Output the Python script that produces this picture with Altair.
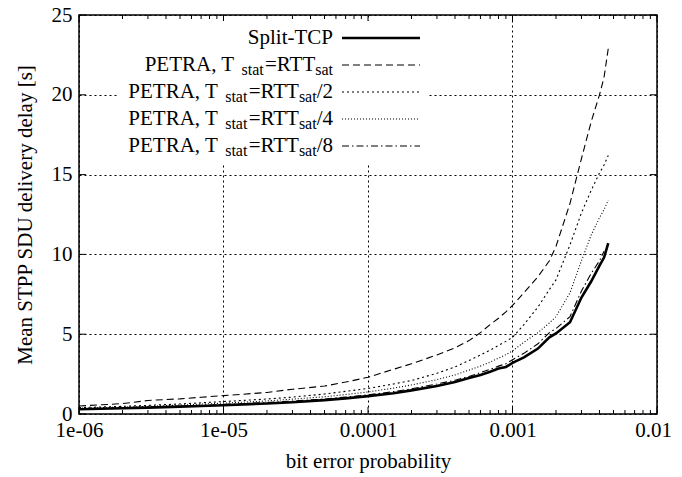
import math
import altair as alt
import pandas as pd

# ---------------- data ----------------
ber = [1e-6, 2e-6, 3e-6, 5e-6, 7e-6, 1e-5, 2e-5, 3e-5, 5e-5, 7e-5,
       1e-4, 1.5e-4, 2e-4, 3e-4, 4e-4, 5e-4, 6e-4, 7e-4, 8e-4, 9e-4,
       1e-3, 1.2e-3, 1.5e-3, 1.8e-3, 2e-3, 2.5e-3, 3e-3, 3.5e-3, 4e-3, 4.3e-3, 4.6e-3]

split_tcp = [0.30, 0.36, 0.40, 0.46, 0.50, 0.55, 0.66, 0.74, 0.87, 0.98,
             1.12, 1.30, 1.48, 1.75, 2.00, 2.25, 2.45, 2.65, 2.85, 2.95,
             3.20, 3.55, 4.10, 4.80, 5.05, 5.75, 7.30, 8.30, 9.30, 9.80, 10.70]
petra_1 = [0.50, 0.65, 0.85, 0.95, 1.05, 1.15, 1.35, 1.55, 1.75, 2.00,
           2.30, 2.80, 3.15, 3.70, 4.15, 4.60, 5.10, 5.60, 6.00, 6.40,
           6.80, 7.60, 8.60, 9.60, 10.50, 13.20, 16.00, 18.30, 20.00, 21.10, 22.90]
petra_2 = [0.40, 0.48, 0.54, 0.63, 0.70, 0.78, 0.94, 1.06, 1.25, 1.42,
           1.60, 1.88, 2.10, 2.55, 2.95, 3.35, 3.70, 4.00, 4.30, 4.55,
           4.80, 5.60, 6.70, 7.80, 8.40, 10.60, 12.60, 14.00, 15.10, 15.60, 16.20]
petra_4 = [0.36, 0.43, 0.48, 0.56, 0.62, 0.68, 0.82, 0.93, 1.08, 1.22,
           1.38, 1.62, 1.82, 2.15, 2.45, 2.75, 3.00, 3.25, 3.50, 3.72,
           3.95, 4.50, 5.10, 5.70, 6.10, 7.60, 9.60, 11.20, 12.30, 12.80, 13.40]
petra_8 = [0.33, 0.39, 0.43, 0.50, 0.55, 0.60, 0.72, 0.81, 0.94, 1.06,
           1.20, 1.40, 1.58, 1.88, 2.12, 2.35, 2.60, 2.80, 3.00, 3.15,
           3.40, 3.80, 4.40, 5.10, 5.35, 6.10, 7.70, 8.80, 9.60, 10.20, None]

series_names = ["Split-TCP", "PETRA 1", "PETRA 2", "PETRA 4", "PETRA 8"]
series_values = [split_tcp, petra_1, petra_2, petra_4, petra_8]
legend_suffix = ["", "", "/2", "/4", "/8"]

x_tick_values = [1e-6, 1e-5, 1e-4, 1e-3, 1e-2]
x_tick_labels = ["1e-06", "1e-05", "0.0001", "0.001", "0.01"]
x_minor_ticks = [m * 10.0 ** e for e in range(-6, -2) for m in range(2, 10)]
y_tick_values = [0, 5, 10, 15, 20, 25]

# ---------------- layout/style ----------------
W, H = 578, 399
FONT = "Liberation Serif"
FS = 21
SUB = 16
dashes = [[1, 0], [7, 4], [2, 3], [1, 2], [7, 3, 1.5, 3]]
widths = [2.6, 1.1, 1.1, 1.1, 1.1]

rows = []
for name, vals in zip(series_names, series_values):
    for xv, yv in zip(ber, vals):
        if yv is not None:
            rows.append({"ber": xv, "delay": yv, "series": name})
df = pd.DataFrame(rows)

label_expr = " : ".join(
    f"round(log(datum.value)/LN10) == {round(math.log10(v))} ? '{t}'"
    for v, t in zip(x_tick_values, x_tick_labels)
) + " : ''"

xscale = alt.Scale(type="log", domain=[1e-6, 1e-2], nice=False)
yscale = alt.Scale(domain=[0, 25], nice=False)

base_axis = dict(labelFont=FONT, labelFontSize=FS, titleFont=FONT, titleFontSize=FS,
                 titleFontWeight="normal", labelColor="black", titleColor="black",
                 grid=True, gridDash=[2, 3], gridColor="black", gridWidth=1,
                 domain=False, ticks=False)

xaxis = alt.Axis(values=x_tick_values, labelExpr=label_expr, labelPadding=5,
                 title="bit error probability", titlePadding=10,
                 labelOverlap=False, labelFlush=False,
                 labelOffset={"condition": {"test": "datum.value > 0.005", "value": -4}, "value": 0},
                 **base_axis)
yaxis = alt.Axis(values=y_tick_values, labelPadding=7,
                 title="Mean STPP SDU delivery delay [s]",
                 titlePadding=16, **base_axis)

solid = alt.Chart(df[df["series"] == series_names[0]]).mark_line(
    clip=True, color="black", strokeWidth=widths[0]).encode(
    x=alt.X("ber:Q", scale=xscale, axis=xaxis),
    y=alt.Y("delay:Q", scale=yscale, axis=yaxis),
)
others = alt.Chart(df[df["series"] != series_names[0]]).mark_line(
    clip=True, color="black", strokeWidth=widths[1]).encode(
    x=alt.X("ber:Q", scale=xscale),
    y=alt.Y("delay:Q", scale=yscale),
    strokeDash=alt.StrokeDash("series:N", scale=alt.Scale(domain=series_names[1:], range=dashes[1:]),
                              legend=None),
)

# inward ticks
xmaj_df = pd.DataFrame({"ber": x_tick_values})
xmin_df = pd.DataFrame({"ber": x_minor_ticks})
ytk_df = pd.DataFrame({"delay": y_tick_values})


def xticks(d, length):
    b = alt.Chart(d).mark_rule(color="black", strokeWidth=1)
    return [
        b.encode(x=alt.X("ber:Q", scale=xscale), y=alt.value(H), y2=alt.value(H - length)),
        b.encode(x=alt.X("ber:Q", scale=xscale), y=alt.value(0), y2=alt.value(length)),
    ]


tick_layers = xticks(xmaj_df, 7) + xticks(xmin_df, 4)
yb = alt.Chart(ytk_df).mark_rule(color="black", strokeWidth=1)
tick_layers += [
    yb.encode(y=alt.Y("delay:Q", scale=yscale), x=alt.value(0), x2=alt.value(7)),
    yb.encode(y=alt.Y("delay:Q", scale=yscale), x=alt.value(W), x2=alt.value(W - 7)),
]

# legend (opaque key box)
one = pd.DataFrame({"k": [0]})
legend_layers = [
    alt.Chart(one).mark_rect(color="white").encode(
        x=alt.value(40), x2=alt.value(349), y=alt.value(6), y2=alt.value(148))
]

# Times/Liberation Serif advance widths (em)
adv = {"P": .556, "E": .611, "T": .611, "R": .667, "A": .722, ",": .25, " ": .25,
       "=": .564, "/": .278, "2": .5, "4": .5, "8": .5, "s": .389, "t": .278, "a": .444}


def tw(s, size):
    return sum(adv.get(c, 0.5) for c in s) * size


RIGHT = 254
ROW0 = 23
STEP = 27
GAP = 0.35 * FS
for i, (name, suf) in enumerate(zip(series_names, legend_suffix)):
    yrow = ROW0 + STEP * i
    legend_layers.append(
        alt.Chart(one).mark_rule(color="black", strokeWidth=widths[i], strokeDash=dashes[i]).encode(
            x=alt.value(263), x2=alt.value(341), y=alt.value(yrow))
    )
    if i == 0:
        pieces = [(name, FS, 0, 0)]
    else:
        pieces = [("PETRA, T", FS, 0, GAP), ("stat", SUB, 5, 0), ("=RTT", FS, 0, 0), ("sat", SUB, 5, 0)]
        if suf:
            pieces.append((suf, FS, 0, 0))
    right = RIGHT
    for txt, size, dy, gap in reversed(pieces):
        right -= gap
        legend_layers.append(
            alt.Chart(one).mark_text(font=FONT, fontSize=size, align="right", baseline="middle",
                                     color="black", dy=dy).encode(
                x=alt.value(right), y=alt.value(yrow), text=alt.value(txt))
        )
        right -= tw(txt, size)

chart = alt.layer(others, solid, *tick_layers, *legend_layers).properties(
    width=W, height=H,
    background="white",
    autosize=alt.AutoSizeParams(type="none"),
    padding={"left": 71, "top": 7, "right": 17, "bottom": 62},
).configure_view(stroke="black", strokeWidth=1.5)

chart.save("out.html", embed_options={"renderer": "svg", "actions": False})
